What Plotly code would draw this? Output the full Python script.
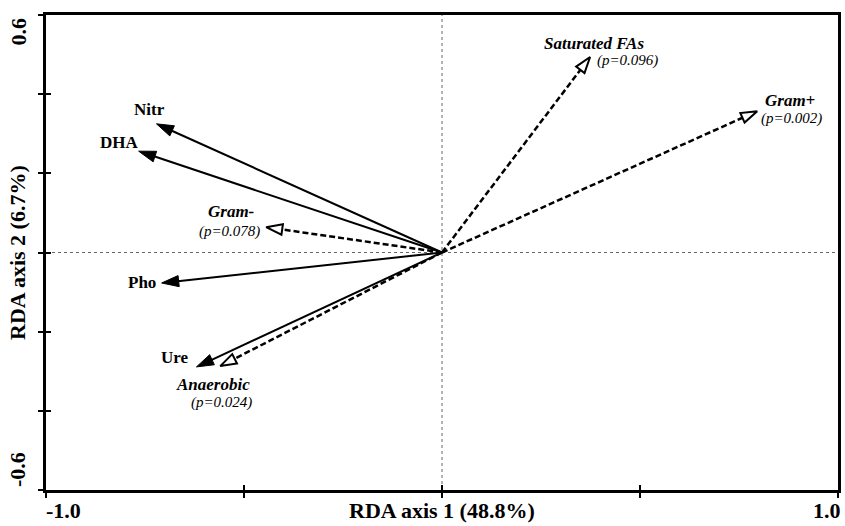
import plotly.graph_objects as go

# ---- data ----
env_names = ["Nitr", "DHA", "Pho", "Ure"]
env_x = [-0.721, -0.766, -0.708, -0.620]
env_y = [0.325, 0.256, -0.077, -0.289]

taxa_names = ["Saturated FAs", "Gram+", "Gram-", "Anaerobic"]
taxa_x = [0.374, 0.796, -0.444, -0.560]
taxa_y = [0.494, 0.357, 0.064, -0.287]
taxa_p = ["0.096", "0.002", "0.078", "0.024"]

x_title = "RDA axis 1 (48.8%)"
y_title = "RDA axis 2 (6.7%)"
x_ticks = [-1.0, -0.5, 0.0, 0.5, 1.0]
y_ticks = [-0.6, -0.4, -0.2, 0.0, 0.2, 0.4, 0.6]

# ---- styles ----
FONT = "Liberation Serif"
# label offsets in pixels relative to arrow tip: (xshift, yshift, xanchor, yanchor)
env_label_style = {
    "Nitr": (-7, 14, "center", "middle"),
    "DHA": (-19, 9, "center", "middle"),
    "Pho": (-4, 0, "right", "middle"),
    "Ure": (-5, 9, "right", "middle"),
}
taxa_name_style = {
    "Saturated FAs": (4, 13, "center", "middle"),
    "Gram+": (33, 11, "center", "middle"),
    "Gram-": (-35, 16, "center", "middle"),
    "Anaerobic": (-7, -18, "center", "middle"),
}
taxa_p_style = {
    "Saturated FAs": (5, -4, "left", "middle"),
    "Gram+": (2, -7, "left", "middle"),
    "Gram-": (-4, -4, "right", "middle"),
    "Anaerobic": (1, -36, "center", "middle"),
}

fig = go.Figure()

for name, x, y in zip(env_names, env_x, env_y):
    fig.add_trace(go.Scatter(
        x=[0, x], y=[0, y], mode="lines+markers", showlegend=False,
        line=dict(color="black", width=2),
        marker=dict(symbol="arrow", size=[0, 18], angleref="previous", opacity=1,
                    color="black", line=dict(width=1, color="black")),
        hoverinfo="skip"))

for name, x, y in zip(taxa_names, taxa_x, taxa_y):
    fig.add_trace(go.Scatter(
        x=[0, x], y=[0, y], mode="lines+markers", showlegend=False,
        line=dict(color="black", width=2.5, dash="6px,3px"),
        marker=dict(symbol="arrow", size=[0, 17], angleref="previous", opacity=1,
                    color="white", line=dict(width=2, color="black")),
        hoverinfo="skip"))

# invisible trace for the overlay axes (inside tick marks)
fig.add_trace(go.Scatter(x=[0], y=[0], xaxis="x2", yaxis="y2", mode="markers",
                         marker=dict(opacity=0), showlegend=False, hoverinfo="skip"))

annotations = []
for name, x, y in zip(env_names, env_x, env_y):
    dx, dy, xa, ya = env_label_style[name]
    annotations.append(dict(x=x, y=y, xref="x", yref="y", text=f"<b>{name}</b>",
                            showarrow=False, xshift=dx, yshift=dy, xanchor=xa, yanchor=ya,
                            font=dict(family=FONT, size=17, color="black")))
for name, x, y, p in zip(taxa_names, taxa_x, taxa_y, taxa_p):
    dx, dy, xa, ya = taxa_name_style[name]
    annotations.append(dict(x=x, y=y, xref="x", yref="y", text=f"<b><i>{name}</i></b>",
                            showarrow=False, xshift=dx, yshift=dy, xanchor=xa, yanchor=ya,
                            font=dict(family=FONT, size=17, color="black")))
    dx, dy, xa, ya = taxa_p_style[name]
    annotations.append(dict(x=x, y=y, xref="x", yref="y", text=f"<i>(p={p})</i>",
                            showarrow=False, xshift=dx, yshift=dy, xanchor=xa, yanchor=ya,
                            font=dict(family=FONT, size=15, color="black")))

# tick labels and titles
annotations += [
    dict(x=x_ticks[0], y=0, xref="x", yref="paper", text=f"<b>{x_ticks[0]:.1f}</b>",
         showarrow=False, xanchor="left", yanchor="top", xshift=-2, yshift=-6,
         font=dict(family=FONT, size=22, color="black")),
    dict(x=x_ticks[-1], y=0, xref="x", yref="paper", text=f"<b>{x_ticks[-1]:.1f}</b>",
         showarrow=False, xanchor="right", yanchor="top", xshift=5, yshift=-6,
         font=dict(family=FONT, size=22, color="black")),
    dict(x=0, y=0, xref="x", yref="paper", text=f"<b>{x_title}</b>",
         showarrow=False, xanchor="center", yanchor="top", xshift=0, yshift=-6,
         font=dict(family=FONT, size=22, color="black")),
    dict(x=0, y=y_ticks[-1], xref="paper", yref="y", text=f"<b>{y_ticks[-1]:.1f}</b>",
         showarrow=False, textangle=-90, xanchor="right", yanchor="top", xshift=-14, yshift=-1,
         font=dict(family=FONT, size=22, color="black")),
    dict(x=0, y=y_ticks[0], xref="paper", yref="y", text=f"<b>{y_ticks[0]:.1f}</b>",
         showarrow=False, textangle=-90, xanchor="right", yanchor="bottom", xshift=-14, yshift=1,
         font=dict(family=FONT, size=22, color="black")),
    dict(x=0, y=0, xref="paper", yref="y", text=f"<b>{y_title}</b>",
         showarrow=False, textangle=-90, xanchor="right", yanchor="middle", xshift=-14,
         font=dict(family=FONT, size=22, color="black")),
]

shapes = [
    dict(type="line", xref="x", yref="paper", x0=0, x1=0, y0=0, y1=1,
         line=dict(color="#666666", width=1, dash="dot"), layer="below"),
    dict(type="line", xref="paper", yref="y", x0=0, x1=1, y0=0, y1=0,
         line=dict(color="#666666", width=1, dash="dot"), layer="below"),
]

axis_common = dict(showgrid=False, zeroline=False, showticklabels=False,
                   linecolor="black", linewidth=3, tickcolor="black", tickwidth=2, ticklen=5)

fig.update_layout(
    width=845, height=526,
    margin=dict(l=46, r=4, t=15, b=36),
    paper_bgcolor="white", plot_bgcolor="white",
    xaxis=dict(range=[-1, 1], tickvals=x_ticks, ticks="outside", showline=True, mirror=True,
               **axis_common),
    yaxis=dict(range=[-0.6, 0.6], tickvals=y_ticks, ticks="outside", showline=True, mirror=True,
               **axis_common),
    xaxis2=dict(range=[-1, 1], overlaying="x", anchor="y2", side="bottom", tickvals=x_ticks,
                ticks="inside", showline=False, showgrid=False, zeroline=False,
                showticklabels=False, tickcolor="black", tickwidth=2, ticklen=5),
    yaxis2=dict(range=[-0.6, 0.6], overlaying="y", anchor="x2", side="left", tickvals=y_ticks,
                ticks="inside", showline=False, showgrid=False, zeroline=False,
                showticklabels=False, tickcolor="black", tickwidth=2, ticklen=5),
    annotations=annotations,
    shapes=shapes,
)

fig.write_html("out.html")
